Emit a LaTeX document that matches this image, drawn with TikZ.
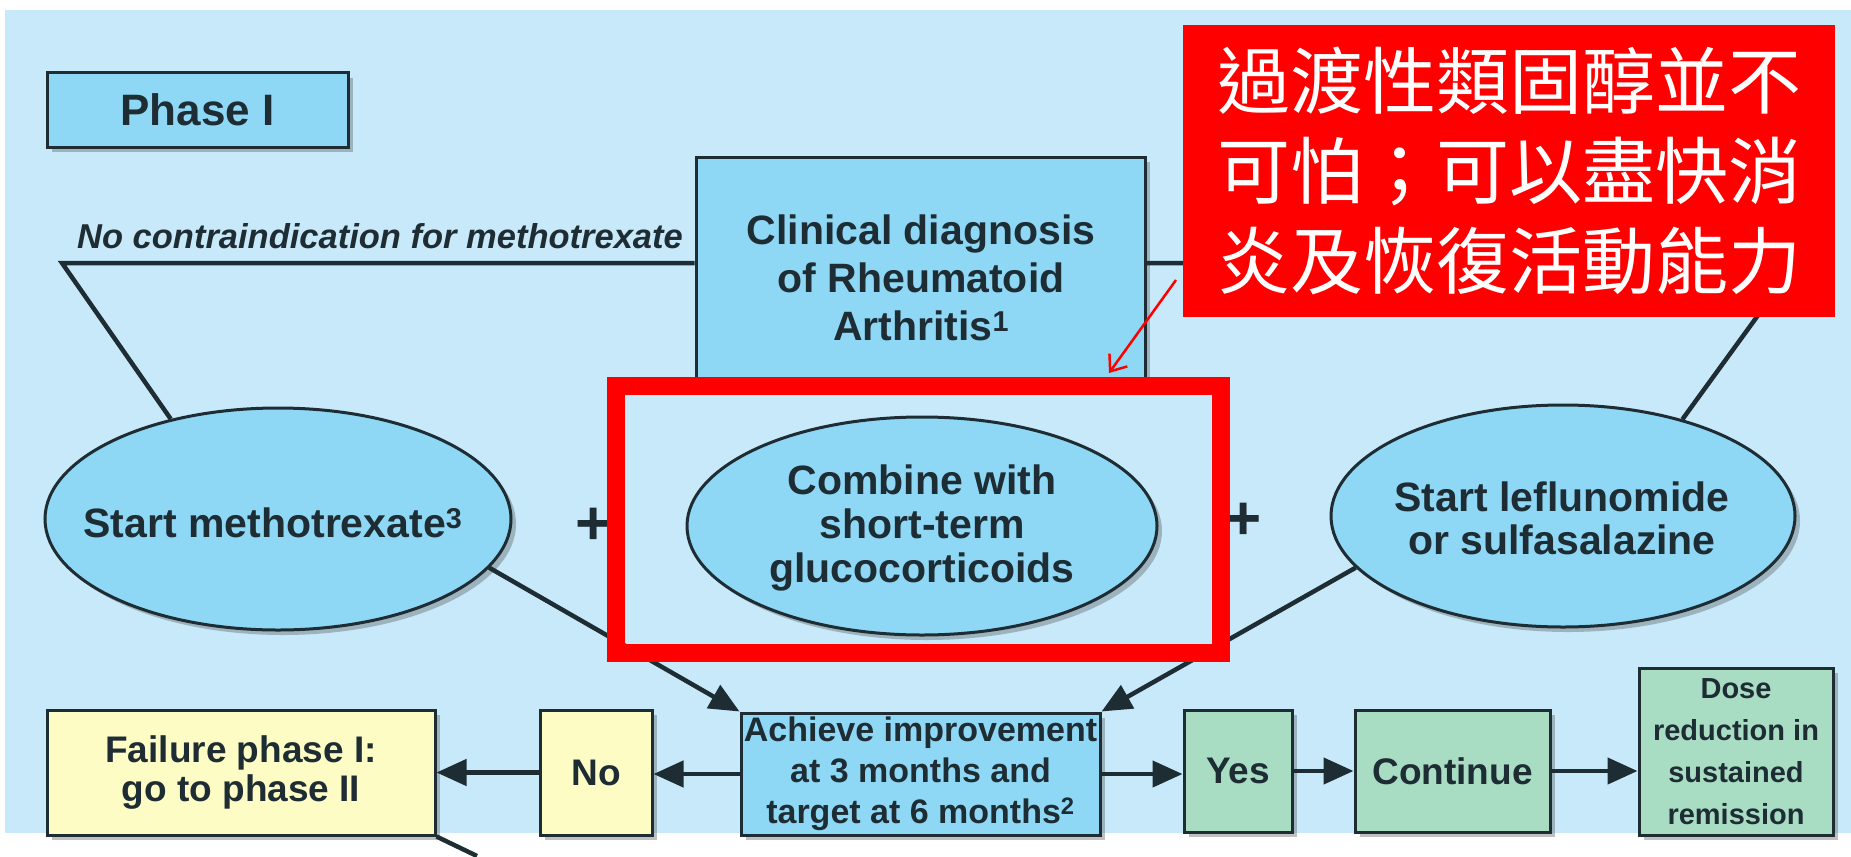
\documentclass[tikz,border=0pt]{standalone}
\usepackage{fontspec}
\setmainfont{Liberation Sans}
\newfontfamily\cjkfont{Noto Sans CJK TC}
\usetikzlibrary{shapes.geometric,arrows.meta,shadows,calc}
\definecolor{bgblue}{HTML}{C8E9F9}
\definecolor{boxblue}{HTML}{8ED8F6}
\definecolor{boxyellow}{HTML}{FCFCC4}
\definecolor{boxgreen}{HTML}{A8DDC4}
\definecolor{ink}{HTML}{1E2C34}
\definecolor{hired}{HTML}{FF0000}
\begin{document}
\begin{tikzpicture}[x=1pt,y=-1pt,
  shadowed/.style={drop shadow={shadow xshift=5pt,shadow yshift=-5pt,opacity=0.35,fill=black!70}},
  boxbase/.style={draw=ink,line width=3pt,shadowed,inner sep=0pt,text=ink,align=center},
  bluebox/.style={boxbase,fill=boxblue},
  yelbox/.style={boxbase,fill=boxyellow},
  grnbox/.style={boxbase,fill=boxgreen},
  ell/.style={ellipse,draw=ink,line width=3pt,fill=boxblue,shadowed,inner sep=0pt},
  txt/.style={text=ink,align=center,inner sep=0pt},
  link/.style={draw=ink,line width=4.5pt},
  arr/.style={link,-{Triangle[length=30pt,width=26pt]}},
  big/.style={font=\fontsize{41}{47}\selectfont\bfseries},
  mid/.style={font=\fontsize{37}{39}\selectfont\bfseries}
]
\useasboundingbox (0,0) rectangle (1851,856);
\fill[white] (0,0) rectangle (1851,856);
\fill[bgblue] (5,10) rectangle (1851,833);

% top boxes
\node[bluebox,minimum width=301pt,minimum height=74pt,font=\fontsize{44}{44}\selectfont\bfseries] (phase) at (197.5,110) {Phase I};
\node[bluebox,minimum width=449pt,minimum height=228pt] (clin) at (920.5,271) {};
\node[txt,font=\fontsize{41}{48}\selectfont\bfseries] (clintxt) at (921,278) {Clinical diagnosis\\of Rheumatoid\\Arthritis\textsuperscript{1}};

% italic label
\node[txt,font=\fontsize{34.5}{34.5}\selectfont\bfseries\itshape,anchor=base] (noci) at (380,248) {No contraindication for methotrexate};

% ellipses
\node[ell,minimum width=466pt,minimum height=222pt] (meth) at (278,519) {};
\node[txt,big] (methtxt) at (273,523) {Start methotrexate\textsuperscript{3}};
\node[ell,minimum width=470pt,minimum height=218pt] (comb) at (922,526) {};
\node[txt,font=\fontsize{41}{44}\selectfont\bfseries] (combtxt) at (922,528) {Combine with\\short-term\\glucocorticoids};
\node[ell,minimum width=464pt,minimum height=222pt] (lef) at (1563,516) {};
\node[txt,font=\fontsize{41}{43}\selectfont\bfseries] (leftxt) at (1562,518) {Start leflunomide\\or sulfasalazine};

% top connectors
\coordinate (L) at (62,263);
\coordinate (R) at (1796,263);
\draw[link] (clin.west |- L) -- (L) -- (meth.137);
\draw[link] (clin.east |- R) -- (R) -- (lef.39);

% plus signs
\node[txt,font=\fontsize{62}{62}\selectfont\bfseries] (plus1) at (594,526) {+};
\node[txt,font=\fontsize{62}{62}\selectfont\bfseries] (plus2) at (1244,521) {+};

% bottom boxes
\node[yelbox,minimum width=388pt,minimum height=125pt,font=\fontsize{37}{39}\selectfont\bfseries] (fail) at (241,772.5) {Failure phase I:\\go to phase II};
\node[yelbox,minimum width=112pt,minimum height=125pt,mid] (no) at (596,772.5) {No};
\node[bluebox,minimum width=359pt,minimum height=122pt,font=\fontsize{34}{41}\selectfont\bfseries] (ach) at (920.5,774) {Achieve improvement\\at 3 months and\\target at 6 months\textsuperscript{2}};
\node[grnbox,minimum width=108pt,minimum height=122pt,mid] (yes) at (1238,771) {Yes};
\node[grnbox,minimum width=195pt,minimum height=122pt,mid] (cont) at (1452.5,771) {Continue};
\node[grnbox,minimum width=194pt,minimum height=167pt,font=\fontsize{29}{42}\selectfont\bfseries] (dose) at (1736,751.5) {Dose\\reduction in\\sustained\\remission};

% arrows
\draw[arr] (meth.-13) -- (ach.north west);
\draw[arr] (lef.194) -- (ach.north east);
\draw[arr] (ach.west) -- (ach.west -| no.east);
\draw[arr] (no.west) -- (no.west -| fail.east);
\draw[arr] (ach.east) -- (ach.east -| yes.west);
\draw[arr] (yes.east) -- (yes.east -| cont.west);
\draw[arr] (cont.east) -- (cont.east -| dose.west);
\coordinate (exit) at (477,856);
\draw[link] (fail.south east) -- (exit);

% red highlight
\node[draw=hired,line width=18pt,minimum width=605pt,minimum height=267pt,inner sep=0pt] (hl) at (918.5,519.5) {};

% red callout
\node[fill=hired,minimum width=652pt,minimum height=292pt,inner sep=0pt,text=white,align=center,font=\cjkfont\fontsize{73}{90}\selectfont] (note) at (1509,171) {過渡性類固醇並不\\可怕；可以盡快消\\炎及恢復活動能力};
\coordinate (ra) at (1176,280);
\coordinate (rb) at (1109,373);
\draw[hired,line width=2.5pt,-{Straight Barb[length=14pt,width=22pt]}] (ra) -- (rb);
\end{tikzpicture}
\end{document}
